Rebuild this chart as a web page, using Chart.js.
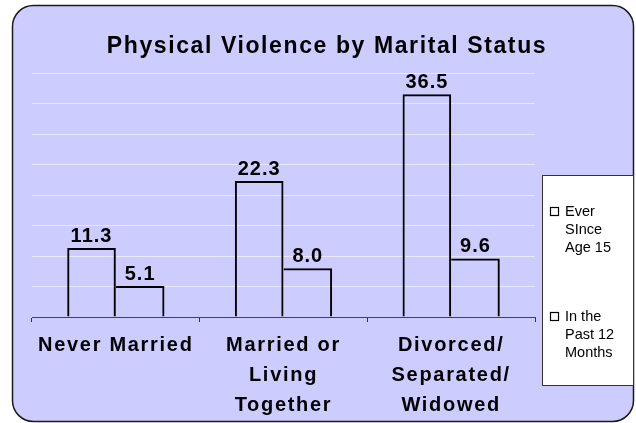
<!DOCTYPE html>
<html>
<head>
<meta charset="utf-8">
<script src="https://cdn.jsdelivr.net/npm/chart.js@4.4.1/dist/chart.umd.min.js"></script>
<style>
  html, body { margin: 0; padding: 0; background: #fff; }
  canvas { display: block; }
</style>
</head>
<body>
<canvas id="violenceChart" width="636" height="423"></canvas>
<script>
const chartTitle = 'Physical Violence by Marital Status';
const categories = [['Never Married'], ['Married or', 'Living', 'Together'], ['Divorced/', 'Separated/', 'Widowed']];
const everSinceAge15 = [11.3, 22.3, 36.5];
const pastTwelveMonths = [5.1, 8.0, 9.6];
const seriesLabels = [['Ever', 'SInce', 'Age 15'], ['In the', 'Past 12', 'Months']];
const yMin = 0;
const yMax = 40;
const yStep = 5;

const FONT = 'Arial, "Liberation Sans", Helvetica, sans-serif';

function roundRect(ctx, x, y, w, h, r) {
    ctx.beginPath();
    ctx.moveTo(x + r, y);
    ctx.lineTo(x + w - r, y);
    ctx.arcTo(x + w, y, x + w, y + r, r);
    ctx.lineTo(x + w, y + h - r);
    ctx.arcTo(x + w, y + h, x + w - r, y + h, r);
    ctx.lineTo(x + r, y + h);
    ctx.arcTo(x, y + h, x, y + h - r, r);
    ctx.lineTo(x, y + r);
    ctx.arcTo(x, y, x + r, y, r);
    ctx.closePath();
}

// frame, title, value labels and the boxed legend
const decorations = {
    id: 'decorations',
    beforeDraw(chart) {
        const ctx = chart.ctx;
        ctx.save();
        roundRect(ctx, 12.5, 5.5, 621, 416, 21);
        ctx.fillStyle = '#CCCCFF';
        ctx.fill();
        ctx.lineWidth = 1.5;
        ctx.strokeStyle = '#1a1a1a';
        ctx.stroke();
        ctx.restore();
        // wide letter spacing for the category labels
        ctx.letterSpacing = '1.7px';
    },
    afterDatasetsDraw(chart) {
        const ctx = chart.ctx;
        ctx.save();
        ctx.letterSpacing = '1px';
        ctx.font = 'bold 20px ' + FONT;
        ctx.fillStyle = '#000';
        ctx.textAlign = 'center';
        ctx.textBaseline = 'alphabetic';
        chart.data.datasets.forEach((ds, di) => {
            chart.getDatasetMeta(di).data.forEach((bar, i) => {
                ctx.fillText(ds.data[i].toFixed(1), bar.x, bar.y - 6);
            });
        });
        ctx.restore();
    },
    afterDraw(chart) {
        const ctx = chart.ctx;
        ctx.save();
        ctx.letterSpacing = '1.6px';
        ctx.font = 'bold 23px ' + FONT;
        ctx.fillStyle = '#000';
        ctx.textAlign = 'center';
        ctx.textBaseline = 'alphabetic';
        ctx.fillText(chartTitle, 327, 53);

        // legend box
        ctx.letterSpacing = '0px';
        ctx.fillStyle = '#fff';
        ctx.fillRect(542, 175, 92, 210);
        ctx.strokeStyle = '#333';
        ctx.lineWidth = 1;
        ctx.strokeRect(542.5, 175.5, 91, 210);
        ctx.font = '14.5px ' + FONT;
        ctx.textAlign = 'left';
        ctx.textBaseline = 'middle';
        const itemTops = [212, 317];
        seriesLabels.forEach((lines, k) => {
            const y0 = itemTops[k];
            ctx.strokeStyle = '#000';
            ctx.lineWidth = 1.2;
            ctx.strokeRect(550.5, y0 - 4.5, 8, 8);
            ctx.fillStyle = '#000';
            lines.forEach((t, j) => ctx.fillText(t, 565, y0 + j * 18));
        });
        ctx.restore();
        ctx.letterSpacing = '0px';
    }
};

const ctx = document.getElementById('violenceChart').getContext('2d');
const violenceChart = new Chart(ctx, {
    type: 'bar',
    data: {
        labels: categories,
        datasets: [{
            label: seriesLabels[0].join(' '),
            data: everSinceAge15,
            backgroundColor: 'rgba(0,0,0,0)',
            borderColor: '#000',
            borderWidth: { top: 2, left: 2, right: 2, bottom: 0 },
            borderSkipped: false
        }, {
            label: seriesLabels[1].join(' '),
            data: pastTwelveMonths,
            backgroundColor: 'rgba(0,0,0,0)',
            borderColor: '#000',
            borderWidth: { top: 2, left: 0, right: 2, bottom: 0 },
            borderSkipped: false
        }]
    },
    options: {
        responsive: false,
        animation: false,
        devicePixelRatio: 1,
        categoryPercentage: 0.58,
        barPercentage: 1.0,
        layout: {
            padding: { top: 73, left: 32, right: 101, bottom: -5 }
        },
        plugins: {
            legend: { display: false },
            title: { display: false },
            tooltip: { enabled: false }
        },
        scales: {
            x: {
                grid: {
                    offset: true,
                    drawOnChartArea: false,
                    drawTicks: true,
                    tickLength: 5,
                    color: '#333'
                },
                border: { display: true, color: '#444', width: 1 },
                ticks: {
                    color: '#000',
                    padding: 8,
                    maxRotation: 0,
                    autoSkip: false,
                    font: { family: FONT, size: 20, weight: 'bold', lineHeight: 1.5 }
                }
            },
            y: {
                min: yMin,
                max: yMax,
                ticks: { display: false, stepSize: yStep },
                grid: { color: '#E8E8FF', lineWidth: 1, drawTicks: false },
                border: { display: false }
            }
        }
    },
    plugins: [decorations]
});
</script>
</body>
</html>
